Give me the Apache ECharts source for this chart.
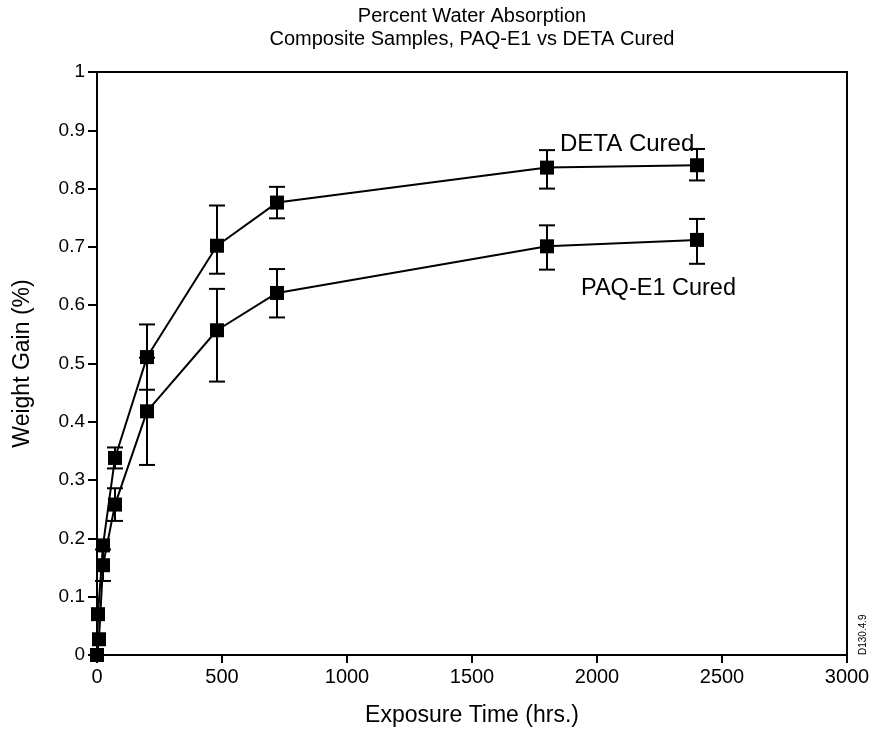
<!DOCTYPE html>
<html>
<head>
<meta charset="utf-8">
<script src="https://cdn.jsdelivr.net/npm/echarts@6/dist/echarts.min.js"></script>
<style>
  html, body { margin: 0; padding: 0; background: #fff; }
  #chart { width: 875px; height: 732px; }
</style>
</head>
<body>
<div id="chart"></div>
<script>
// exposure times (hrs) and weight gain (%)
var detaHours = [0, 4, 24, 72, 200, 480, 720, 1800, 2400];
var detaGain  = [0, 0.07, 0.188, 0.338, 0.511, 0.702, 0.776, 0.836, 0.840];
var detaLow   = [null, null, null, 0.32, 0.455, 0.654, 0.749, 0.80, 0.814];
var detaHigh  = [null, null, null, 0.356, 0.567, 0.771, 0.803, 0.866, 0.868];

var paqHours = [0, 8, 24, 72, 200, 480, 720, 1800, 2400];
var paqGain  = [0, 0.027, 0.154, 0.258, 0.418, 0.557, 0.621, 0.701, 0.712];
var paqLow   = [null, null, 0.127, 0.23, 0.326, 0.469, 0.579, 0.661, 0.671];
var paqHigh  = [null, null, 0.181, 0.286, 0.51, 0.628, 0.662, 0.737, 0.748];

var titleLines = ['Percent Water Absorption', 'Composite Samples, PAQ-E1 vs DETA Cured'];
var font = '"Liberation Sans", Arial, sans-serif';

var pairs = function (xs, ys) {
    return xs.map(function (x, i) { return [x, ys[i]]; });
};
var bars = function (xs, lo, hi) {
    var out = [];
    xs.forEach(function (x, i) {
        if (lo[i] !== null) out.push([x, lo[i], hi[i]]);
    });
    return out;
};

var renderBar = function (params, api) {
    var top = api.coord([api.value(0), api.value(2)]);
    var bot = api.coord([api.value(0), api.value(1)]);
    var half = 8;
    var st = { stroke: '#000', lineWidth: 2 };
    return {
        type: 'group',
        children: [
            { type: 'line', shape: { x1: top[0], y1: top[1], x2: bot[0], y2: bot[1] }, style: st },
            { type: 'line', shape: { x1: top[0] - half, y1: top[1], x2: top[0] + half, y2: top[1] }, style: st },
            { type: 'line', shape: { x1: bot[0] - half, y1: bot[1], x2: bot[0] + half, y2: bot[1] }, style: st }
        ]
    };
};

var lineSeries = function (name, data) {
    return {
        name: name,
        type: 'line',
        data: data,
        symbol: 'rect',
        symbolSize: 14,
        itemStyle: { color: '#000' },
        lineStyle: { color: '#000', width: 2 },
        z: 3,
        animation: false
    };
};

var myChart = echarts.init(document.getElementById('chart'));
myChart.setOption({
    backgroundColor: '#fff',
    textStyle: { fontFamily: font, color: '#000' },
    title: {
        text: titleLines.join('\n'),
        left: 467,
        top: 0,
        textAlign: 'center',
        textStyle: { fontSize: 20, fontWeight: 'normal', color: '#000', lineHeight: 23, fontFamily: font }
    },
    grid: {
        left: 97, right: 28, top: 72, bottom: 76,
        show: true, borderColor: '#000', borderWidth: 2
    },
    xAxis: {
        type: 'value',
        min: 0, max: 3000, interval: 500,
        name: 'Exposure Time (hrs.)',
        nameLocation: 'middle',
        nameGap: 49,
        nameTextStyle: { fontSize: 23, color: '#000', fontFamily: font },
        axisLine: { lineStyle: { color: '#000', width: 2 } },
        axisTick: { inside: false, length: 8, lineStyle: { color: '#000', width: 2 } },
        axisLabel: { fontSize: 20, color: '#000', margin: 12, fontFamily: font, formatter: function (v) { return String(v); } },
        splitLine: { show: false }
    },
    yAxis: {
        type: 'value',
        min: 0, max: 1, interval: 0.1,
        name: 'Weight Gain (%)',
        nameLocation: 'middle',
        nameGap: 63,
        nameTextStyle: { fontSize: 23, color: '#000', fontFamily: font },
        axisLine: { lineStyle: { color: '#000', width: 2 } },
        axisTick: { inside: false, length: 9, lineStyle: { color: '#000', width: 2 } },
        axisLabel: { fontSize: 19, color: '#000', margin: 12, fontFamily: font },
        splitLine: { show: false }
    },
    graphic: [
        { type: 'text', left: 560, top: 132, style: { text: 'DETA Cured', fontSize: 24, fill: '#000', fontFamily: font } },
        { type: 'text', left: 581, top: 277, style: { text: 'PAQ-E1 Cured', fontSize: 23.5, fill: '#000', fontFamily: font } },
        { type: 'text', x: 858, y: 655, rotation: Math.PI / 2, style: { text: 'D130.4.9', fontSize: 10, fill: '#000', fontFamily: font } }
    ],
    series: [
        lineSeries('DETA Cured', pairs(detaHours, detaGain)),
        lineSeries('PAQ-E1 Cured', pairs(paqHours, paqGain)),
        { type: 'custom', renderItem: renderBar, data: bars(detaHours, detaLow, detaHigh), z: 2, animation: false },
        { type: 'custom', renderItem: renderBar, data: bars(paqHours, paqLow, paqHigh), z: 2, animation: false }
    ]
});
</script>
</body>
</html>
